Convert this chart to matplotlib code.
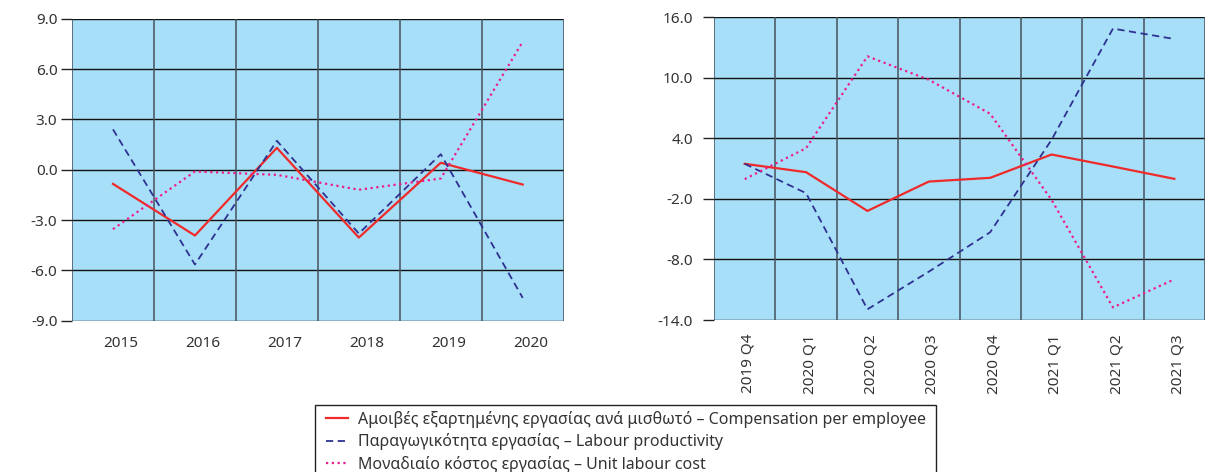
import matplotlib.pyplot as plt
from matplotlib.patches import Rectangle
import numpy as np

plt.rcParams["font.family"] = ["Noto Sans", "DejaVu Sans"]

years = ["2015", "2016", "2017", "2018", "2019", "2020"]
comp_y = [-0.84, -3.92, 1.31, -4.04, 0.42, -0.88]
prod_y = [2.41, -5.65, 1.73, -3.80, 0.93, -7.64]
ulc_y = [-3.54, -0.10, -0.30, -1.19, -0.52, 7.64]

quarters = ["2019 Q4", "2020 Q1", "2020 Q2", "2020 Q3",
            "2020 Q4", "2021 Q1", "2021 Q2", "2021 Q3"]
comp_q = [1.48, 0.65, -3.19, -0.28, 0.09, 2.40, 1.21, -0.01]
prod_q = [1.48, -1.43, -12.94, -9.21, -5.30, 3.86, 14.88, 13.85]
ulc_q = [-0.04, 3.03, 12.13, 9.81, 6.44, -2.09, -12.75, -9.97]

labels = ["Αμοιβές εξαρτημένης εργασίας ανά μισθωτό – Compensation per employee",
          "Παραγωγικότητα εργασίας – Labour productivity",
          "Μοναδιαίο κόστος εργασίας – Unit labour cost"]

bg = "#a8dff8"
txt = "#333333"
red = "#ee2a2a"
navy = "#2e3192"
pink = "#ec1c8c"

W, H = 1216, 472
fig = plt.figure(figsize=(W / 100, H / 100), dpi=100)


def px_axes(x0, y0, x1, y1):
    return fig.add_axes([x0 / W, 1 - y1 / H, (x1 - x0) / W, (y1 - y0) / H])


ax1 = px_axes(72, 18.9, 563.7, 320.7)
ax2 = px_axes(714, 17.3, 1205, 320)


def style(ax, cats, yticks, rot, shift, xpad, ypad):
    n = len(cats)
    x = np.arange(n)
    ax.set_facecolor(bg)
    ax.set_xlim(-0.5, n - 0.5)
    ax.set_ylim(yticks[0], yticks[-1])
    ax.set_yticks(yticks)
    ax.set_yticklabels(["%.1f" % v for v in yticks])
    for v in yticks:
        ax.axhline(v, color="#111111", lw=1.0, zorder=1)
    for b in np.arange(n + 1) - 0.5:
        ax.axvline(b, color="#46525c", lw=1.1, zorder=1)
    ax.set_xticks(x + shift)
    ax.set_xticklabels(cats, rotation=rot)
    ax.tick_params(axis="x", length=0, pad=xpad, colors=txt, labelsize=11)
    ax.tick_params(axis="y", length=8, width=1, color="#222222", colors=txt,
                   labelsize=11, pad=ypad)
    for s in ax.spines.values():
        s.set_visible(False)
    return x


x1 = style(ax1, years, [-9, -6, -3, 0, 3, 6, 9], 0, 0.1, 11, 2.5)
ax1.plot(x1, comp_y, color=red, lw=1.6, zorder=3)
ax1.plot(x1, prod_y, color=navy, lw=1.3, ls=(0, (4, 2.5)), zorder=3)
ax1.plot(x1, ulc_y, color=pink, lw=1.6, ls=(0, (1, 1.6)), zorder=3)

x2 = style(ax2, quarters, [-14, -8, -2, 4, 10, 16], 90, 0.06, 10, 7)
l1, = ax2.plot(x2, comp_q, color=red, lw=1.6, zorder=3)
l2, = ax2.plot(x2, prod_q, color=navy, lw=1.3, ls=(0, (4, 2.5)), zorder=3)
l3, = ax2.plot(x2, ulc_q, color=pink, lw=1.6, ls=(0, (1, 1.6)), zorder=3)

# legend box runs off the bottom of the figure
fig.patches.append(Rectangle((315 / W, -0.1), (936 - 315) / W, 0.1 + 1 - 405 / H,
                             transform=fig.transFigure, fill=False,
                             edgecolor="#222222", lw=1.0))
leg = fig.legend([l1, l2, l3], labels, loc="upper left",
                 bbox_to_anchor=(326 / W, 1 - 411 / H),
                 frameon=False, fontsize=11.5, handlelength=1.4,
                 handletextpad=0.6, labelspacing=0.33, borderpad=0,
                 borderaxespad=0)
for t in leg.get_texts():
    t.set_color(txt)

fig.savefig("out.png", dpi=100)
